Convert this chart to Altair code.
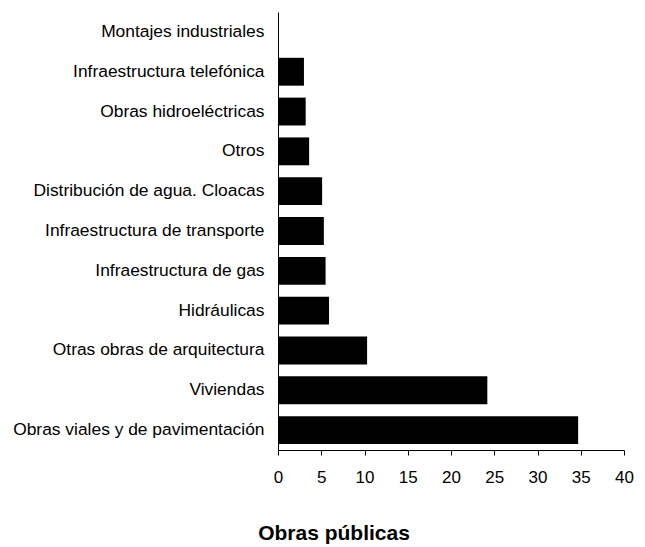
import altair as alt
import pandas as pd

categories = [
    "Montajes industriales",
    "Infraestructura telefónica",
    "Obras hidroeléctricas",
    "Otros",
    "Distribución de agua. Cloacas",
    "Infraestructura de transporte",
    "Infraestructura de gas",
    "Hidráulicas",
    "Otras obras de arquitectura",
    "Viviendas",
    "Obras viales y de pavimentación",
]
values = [0.0, 3.0, 3.2, 3.6, 5.1, 5.3, 5.5, 5.9, 10.3, 24.2, 34.7]
x_ticks = [0, 5, 10, 15, 20, 25, 30, 35, 40]

df = pd.DataFrame({"cat": categories, "val": values})

FONT = "Liberation Sans"

chart = (
    alt.Chart(df)
    .mark_bar(color="black")
    .encode(
        y=alt.Y(
            "cat:N",
            sort=categories,
            title=None,
            scale=alt.Scale(paddingInner=0.3, paddingOuter=0.15),
            axis=alt.Axis(
                ticks=False,
                labelPadding=14,
                labelFontSize=17.4,
                labelFont=FONT,
                labelColor="black",
                domainColor="black",
                labelLimit=400,
            ),
        ),
        x=alt.X(
            "val:Q",
            title=None,
            scale=alt.Scale(domain=[0, 40], nice=False),
            axis=alt.Axis(
                values=x_ticks,
                grid=False,
                tickColor="black",
                tickSize=5,
                domainColor="black",
                labelFontSize=17,
                labelFont=FONT,
                labelColor="black",
                labelPadding=14,
                labelFlush=False,
            ),
        ),
    )
    .properties(
        width=346,
        height=438,
        title=alt.TitleParams(
            "Obras públicas",
            orient="bottom",
            anchor="middle",
            frame="group",
            dx=-117,
            offset=38,
            fontSize=21,
            font=FONT,
            fontWeight="bold",
            color="black",
        ),
        autosize=alt.AutoSizeParams(type="none"),
        padding={"left": 270, "top": 4, "right": 10, "bottom": 96},
    )
    .configure_view(stroke=None)
)

chart.save("out.html", embed_options={"renderer": "svg", "actions": False})
